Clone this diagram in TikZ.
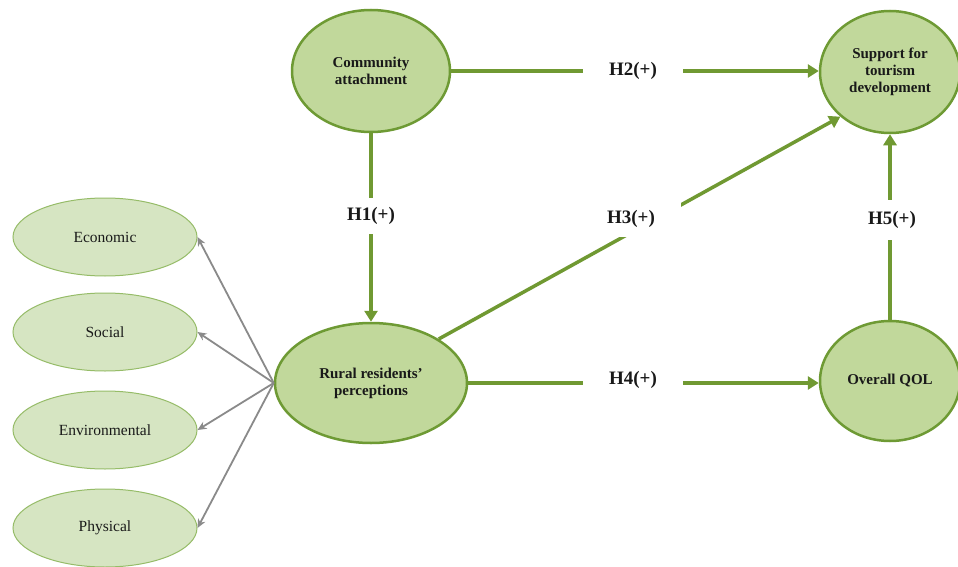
\documentclass[tikz,border=0pt]{standalone}
\usepackage{fontspec}
\setmainfont{Liberation Serif}
\usetikzlibrary{shapes.geometric,arrows.meta}
\definecolor{mainfill}{RGB}{193,216,155}
\definecolor{mainborder}{RGB}{110,154,52}
\definecolor{subfill}{RGB}{214,229,194}
\definecolor{subborder}{RGB}{150,188,104}
\definecolor{arrowgreen}{RGB}{112,153,50}
\definecolor{arrowgray}{RGB}{138,138,138}
\definecolor{textdark}{RGB}{25,25,25}
\begin{document}
\begin{tikzpicture}[x=1pt,y=-1pt,
  mainell/.style={ellipse, draw=mainborder, line width=2.5pt, fill=mainfill, inner sep=0pt,
    align=center, text=textdark, font=\bfseries\fontsize{15}{17}\selectfont},
  subell/.style={ellipse, draw=subborder, line width=1pt, fill=subfill, inner sep=0pt,
    minimum width=184pt, minimum height=78pt, text=textdark, font=\fontsize{15.5}{17}\selectfont},
  garrow/.style={draw=arrowgreen, line width=3.5pt, -{Triangle[length=11pt,width=13pt]}},
  grarrow/.style={draw=arrowgray, line width=1.8pt, -{Stealth[length=9pt,width=8pt]}},
  hlabel/.style={fill=white, inner sep=0pt, minimum width=100pt, minimum height=36pt,
    text=textdark, font=\bfseries\fontsize{19}{21}\selectfont}
]
\useasboundingbox (0,0) rectangle (958,567);
\fill[white] (0,0) rectangle (958,567);

% main constructs
\node[mainell, minimum width=158pt, minimum height=122pt] (ca) at (371,71) {Community\\attachment};
\node[mainell, minimum width=140pt, minimum height=122pt] (sup) at (890,72) {Support for\\tourism\\development};
\node[mainell, minimum width=192pt, minimum height=120pt] (rr) at (371,383) {Rural residents'\\perceptions};
\node[mainell, minimum width=140pt, minimum height=120pt] (qol) at (890,381) {Overall QOL};

% dimensions
\node[subell] (eco) at (105,237) {Economic};
\node[subell] (soc) at (105,332) {Social};
\node[subell] (env) at (105,430) {Environmental};
\node[subell] (phy) at (105,528) {Physical};

% gray arrows
\draw[grarrow] (rr.west) -- (eco.east);
\draw[grarrow] (rr.west) -- (soc.east);
\draw[grarrow] (rr.west) -- (env.east);
\draw[grarrow] (rr.west) -- (phy.east);

% hypotheses
\draw[garrow] (ca.south) -- (rr.north);
\draw[garrow] (ca.east) -- (sup.west |- ca.east);
\draw[garrow] (rr.33) -- (sup.222);
\draw[garrow] (rr.east) -- (qol.west |- rr.east);
\draw[garrow] (qol.north) -- (sup.south);

\node[hlabel] (h1) at (371,216) {H1(+)};
\node[hlabel] (h2) at (633,71) {H2(+)};
\node[hlabel] (h3) at (631,219) {H3(+)};
\node[hlabel] (h4) at (633,380) {H4(+)};
\node[hlabel, minimum height=40pt] (h5) at (892,220) {H5(+)};
\end{tikzpicture}
\end{document}
